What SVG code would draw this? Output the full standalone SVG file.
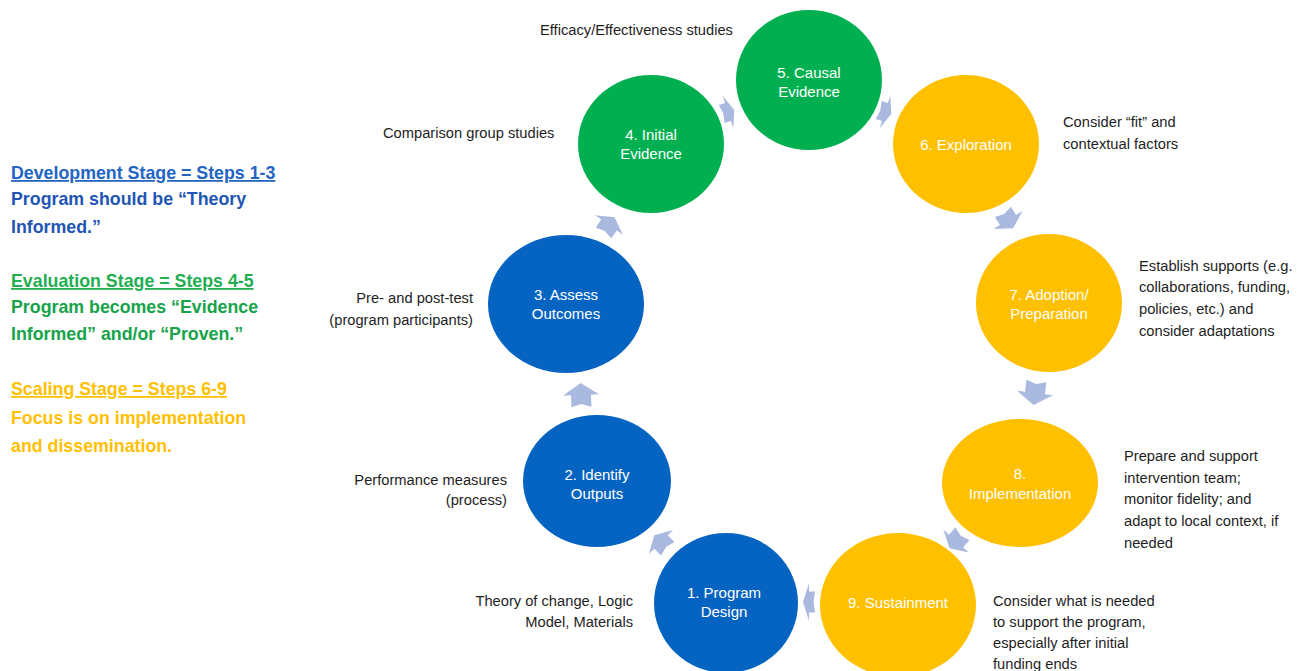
<svg xmlns="http://www.w3.org/2000/svg" width="1308" height="671" viewBox="0 0 1308 671">
<style>
.blue{fill:#0563C1}
.green{fill:#00B050}
.gold{fill:#FFC000}
.ct{font-family:"Liberation Sans",Arial,sans-serif;font-size:15px;fill:#FFFFFF;text-anchor:middle}
.an{font-family:"Liberation Sans",Arial,sans-serif;font-size:14.7px;fill:#1E1E1E}
.r{text-anchor:end}
.lg{font-family:"Liberation Sans",Arial,sans-serif;font-size:17.8px;font-weight:bold}
.arr{fill:#AAB9DF}
</style>
<defs>
<polygon id="ah" points="-12,-10 0,-10 0,-18 12,0 0,18 0,10 -12,10 -9,0"/>
</defs>
<rect width="1308" height="671" fill="#FFFFFF"/>
<g id="legend">
<text class="lg" x="11" y="179" fill="#2264C4" text-decoration="underline">Development Stage = Steps 1-3</text>
<text class="lg" x="11" y="205" fill="#1F56B4">Program should be “Theory</text>
<text class="lg" x="11" y="233" fill="#1F56B4">Informed.”</text>
<text class="lg" x="11" y="287" fill="#1FAE50" text-decoration="underline">Evaluation Stage = Steps 4-5</text>
<text class="lg" x="11" y="313" fill="#16A34A">Program becomes “Evidence</text>
<text class="lg" x="11" y="340" fill="#16A34A">Informed” and/or “Proven.”</text>
<text class="lg" x="11" y="395" fill="#FFC000" text-decoration="underline">Scaling Stage = Steps 6-9</text>
<text class="lg" x="11" y="424" fill="#FFC000">Focus is on implementation</text>
<text class="lg" x="11" y="452" fill="#FFC000">and dissemination.</text>
</g>
<g id="connectors" class="arr">
<use href="#ah" transform="translate(809,602) rotate(180) scale(0.5,1.05)"/>
<use href="#ah" transform="translate(661,542) rotate(-135) scale(0.8,0.95)"/>
<use href="#ah" transform="translate(581,395) rotate(-92)"/>
<use href="#ah" transform="translate(609,225) rotate(-55) scale(0.8,0.95)"/>
<use href="#ah" transform="translate(728,112) rotate(-18) scale(0.55,0.95)"/>
<use href="#ah" transform="translate(885,112) rotate(18) scale(0.55,0.95)"/>
<use href="#ah" transform="translate(1008,220) rotate(58) scale(0.8,0.95)"/>
<use href="#ah" transform="translate(1035,393) rotate(97)"/>
<use href="#ah" transform="translate(956,541) rotate(132) scale(0.8,0.95)"/>
</g>
<g id="node1"><ellipse class="blue" cx="726" cy="603" rx="72" ry="70"/><text class="ct" x="724" y="598">1. Program</text><text class="ct" x="724" y="617">Design</text></g>
<g id="node2"><ellipse class="blue" cx="597" cy="481" rx="74" ry="66"/><text class="ct" x="597" y="480">2. Identify</text><text class="ct" x="597" y="499">Outputs</text></g>
<g id="node3"><ellipse class="blue" cx="566" cy="304" rx="78" ry="69"/><text class="ct" x="566" y="300">3. Assess</text><text class="ct" x="566" y="319">Outcomes</text></g>
<g id="node4"><ellipse class="green" cx="651" cy="144" rx="73" ry="69"/><text class="ct" x="651" y="140">4. Initial</text><text class="ct" x="651" y="159">Evidence</text></g>
<g id="node5"><ellipse class="green" cx="809" cy="80" rx="73" ry="70"/><text class="ct" x="809" y="78">5. Causal</text><text class="ct" x="809" y="97">Evidence</text></g>
<g id="node6"><ellipse class="gold" cx="966" cy="144" rx="73" ry="69"/><text class="ct" x="966" y="150">6. Exploration</text></g>
<g id="node7"><ellipse class="gold" cx="1049" cy="303" rx="73" ry="69"/><text class="ct" x="1049" y="300">7. Adoption/</text><text class="ct" x="1049" y="319">Preparation</text></g>
<g id="node8"><ellipse class="gold" cx="1020" cy="483" rx="78" ry="64"/><text class="ct" x="1020" y="479">8.</text><text class="ct" x="1020" y="499">Implementation</text></g>
<g id="node9"><ellipse class="gold" cx="898" cy="605" rx="78" ry="72"/><text class="ct" x="898" y="608">9. Sustainment</text></g>
<g id="annotations">
<text class="an" x="540" y="35">Efficacy/Effectiveness studies</text>
<text class="an" x="383" y="138">Comparison group studies</text>
<text class="an" x="1063" y="127">Consider “fit” and</text>
<text class="an" x="1063" y="149">contextual factors</text>
<text class="an" x="1139" y="271">Establish supports (e.g.</text>
<text class="an" x="1139" y="292">collaborations, funding,</text>
<text class="an" x="1139" y="314">policies, etc.) and</text>
<text class="an" x="1139" y="336">consider adaptations</text>
<text class="an r" x="473" y="303">Pre- and post-test</text>
<text class="an r" x="473" y="325">(program participants)</text>
<text class="an r" x="507" y="485">Performance measures</text>
<text class="an r" x="507" y="505">(process)</text>
<text class="an" x="1124" y="461">Prepare and support</text>
<text class="an" x="1124" y="483">intervention team;</text>
<text class="an" x="1124" y="504">monitor fidelity; and</text>
<text class="an" x="1124" y="526">adapt to local context, if</text>
<text class="an" x="1124" y="548">needed</text>
<text class="an r" x="633" y="606">Theory of change, Logic</text>
<text class="an r" x="633" y="627">Model, Materials</text>
<text class="an" x="993" y="606">Consider what is needed</text>
<text class="an" x="993" y="627">to support the program,</text>
<text class="an" x="993" y="648">especially after initial</text>
<text class="an" x="993" y="669">funding ends</text>
</g>
</svg>
